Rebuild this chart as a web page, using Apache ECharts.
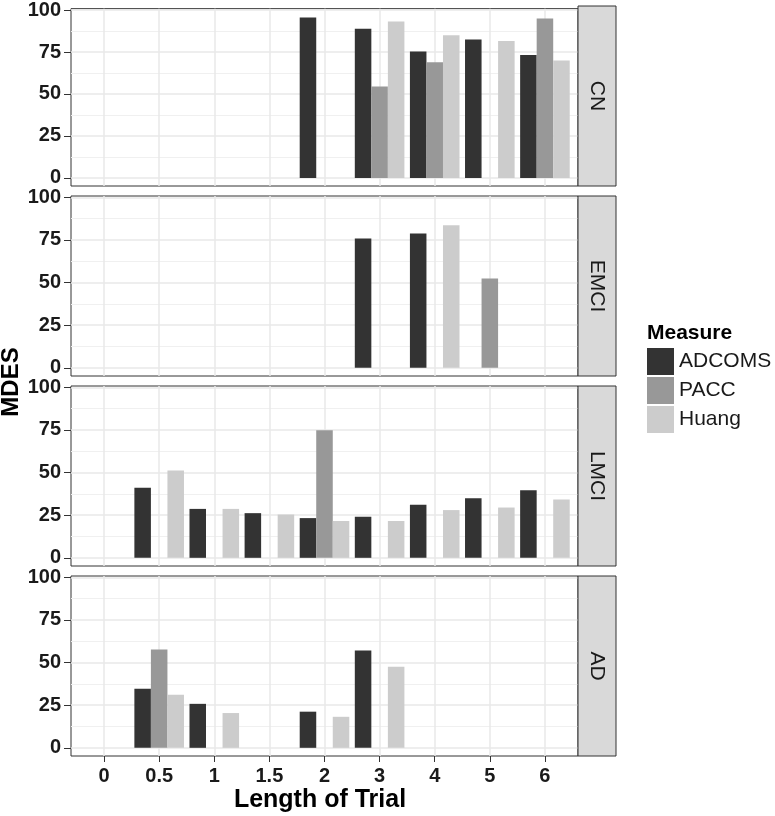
<!DOCTYPE html>
<html><head><meta charset="utf-8">
<script src="https://cdn.jsdelivr.net/npm/echarts@6/dist/echarts.min.js"></script>
<style>html,body{margin:0;padding:0;background:#fff}#c{width:775px;height:816px}</style>
</head><body><div id="c"></div>
<script>
// ---- data ----
const categories = ['0', '0.5', '1', '1.5', '2', '3', '4', '5', '6'];
const facets = ['CN', 'EMCI', 'LMCI', 'AD'];
const measures = ['ADCOMS', 'PACC', 'Huang'];
const yTickValues = [0, 25, 50, 75, 100];
const yMinorValues = [12.5, 37.5, 62.5, 87.5];

const CN_ADCOMS   = [null, null, null, null, 95.6, 88.8, 75.3, 82.5, 73.2];
const CN_PACC     = [null, null, null, null, null, 54.4, 68.9, null, 95.0];
const CN_Huang    = [null, null, null, null, null, 93.2, 84.9, 81.5, 69.9];

const EMCI_ADCOMS = [null, null, null, null, null, 75.8, 78.8, null, null];
const EMCI_PACC   = [null, null, null, null, null, null, null, 52.4, null];
const EMCI_Huang  = [null, null, null, null, null, null, 83.7, null, null];

const LMCI_ADCOMS = [null, 41.1, 28.7, 26.2, 23.3, 24.1, 31.1, 35.0, 39.6];
const LMCI_PACC   = [null, null, null, null, 74.8, null, null, null, null];
const LMCI_Huang  = [null, 51.3, 28.7, 25.4, 21.6, 21.6, 28.0, 29.5, 34.2];

const AD_ADCOMS   = [null, 34.6, 25.8, null, 21.2, 57.1, null, null, null];
const AD_PACC     = [null, 57.7, null, null, null, null, null, null, null];
const AD_Huang    = [null, 31.2, 20.4, null, 18.2, 47.6, null, null, null];

const facetData = {
  CN:   [CN_ADCOMS, CN_PACC, CN_Huang],
  EMCI: [EMCI_ADCOMS, EMCI_PACC, EMCI_Huang],
  LMCI: [LMCI_ADCOMS, LMCI_PACC, LMCI_Huang],
  AD:   [AD_ADCOMS, AD_PACC, AD_Huang]
};

// ---- layout / style ----
const FONT = '"Liberation Sans", Arial, Helvetica, sans-serif';
const colors = ['#333333', '#989898', '#cccccc'];
const panelLeft = 71, panelWidth = 507, panelHeight = 180;
const panelTops = [6, 196, 386, 576];
const stripWidth = 38;
const yMin = -4.8, yMax = 100.8;

const catIdx = categories.map((c, k) => k);

const grids = [], xAxes = [], yAxes = [], series = [], graphics = [];

facets.forEach((f, i) => {
  const last = i === facets.length - 1;
  grids.push({
    left: panelLeft, width: panelWidth, top: panelTops[i], height: panelHeight,
    show: true, backgroundColor: '#ffffff', borderColor: '#333333', borderWidth: 1
  });
  xAxes.push({
    gridIndex: i, type: 'value', min: -0.6, max: categories.length - 0.4, position: 'bottom',
    axisLine: { show: false, onZero: false },
    axisTick: { show: last, customValues: catIdx, length: 6, lineStyle: { color: '#333333', width: 1 } },
    axisLabel: {
      show: last, customValues: catIdx, formatter: v => categories[Math.round(v)],
      fontSize: 20, fontWeight: 'bold', color: '#1a1a1a', fontFamily: FONT, margin: 10
    },
    splitLine: { show: true, lineStyle: { color: '#e8e8e8', width: 1.5 } }
  });
  yAxes.push({
    gridIndex: i, type: 'value', min: yMin, max: yMax, position: 'left',
    axisLine: { show: false, onZero: false },
    axisTick: { show: true, customValues: yTickValues, length: 7, lineStyle: { color: '#333333', width: 1 } },
    axisLabel: {
      customValues: yTickValues, fontSize: 20, fontWeight: 'bold', color: '#1a1a1a',
      fontFamily: FONT, margin: 10
    },
    splitLine: { show: true, lineStyle: { color: '#e8e8e8', width: 1.5 } }
  });
  yAxes.push({
    gridIndex: i, type: 'value', min: yMin, max: yMax, position: 'right',
    axisLine: { show: false, onZero: false },
    axisTick: { show: false, customValues: yMinorValues },
    axisLabel: { show: false },
    splitLine: { show: true, lineStyle: { color: '#f0f0f0', width: 1 } }
  });
  measures.forEach((m, j) => {
    series.push({
      type: 'bar', name: m, xAxisIndex: i, yAxisIndex: 2 * i,
      data: facetData[f][j].map((v, k) => [k, v]),
      barWidth: '30%', barGap: '0%',
      itemStyle: { color: colors[j] },
      emphasis: { disabled: true },
      animation: false
    });
  });
  // facet strip
  graphics.push({
    type: 'rect', z: 10,
    shape: { x: panelLeft + panelWidth, y: panelTops[i], width: stripWidth, height: panelHeight },
    style: { fill: '#d9d9d9', stroke: '#333333', lineWidth: 1 }
  });
  graphics.push({
    type: 'text', z: 11,
    x: panelLeft + panelWidth + stripWidth / 2, y: panelTops[i] + panelHeight / 2,
    rotation: -Math.PI / 2,
    style: { text: f, fontSize: 21, fontFamily: FONT, fill: '#1a1a1a', align: 'center', verticalAlign: 'middle' }
  });
});

// axis titles & legend title
graphics.push({
  type: 'text', x: 11, y: 382, rotation: Math.PI / 2,
  style: { text: 'MDES', fontSize: 24, fontWeight: 'bold', fontFamily: FONT, fill: '#000', align: 'center', verticalAlign: 'middle' }
});
graphics.push({
  type: 'text', x: 320, y: 800,
  style: { text: 'Length of Trial', fontSize: 25, fontWeight: 'bold', fontFamily: FONT, fill: '#000', align: 'center', verticalAlign: 'middle' }
});
graphics.push({
  type: 'text', x: 647, y: 333,
  style: { text: 'Measure', fontSize: 21, fontWeight: 'bold', fontFamily: FONT, fill: '#000', align: 'left', verticalAlign: 'middle' }
});

const chart = echarts.init(document.getElementById('c'), null, { renderer: 'canvas' });
chart.setOption({
  backgroundColor: '#ffffff',
  animation: false,
  grid: grids, xAxis: xAxes, yAxis: yAxes, series: series,
  legend: {
    data: measures, orient: 'vertical', left: 647, top: 348, padding: 0,
    itemWidth: 27, itemHeight: 27, itemGap: 2, icon: 'rect',
    selectedMode: false,
    textStyle: { fontSize: 21, color: '#1a1a1a', fontFamily: FONT }
  },
  graphic: graphics
});
</script>
</body></html>
